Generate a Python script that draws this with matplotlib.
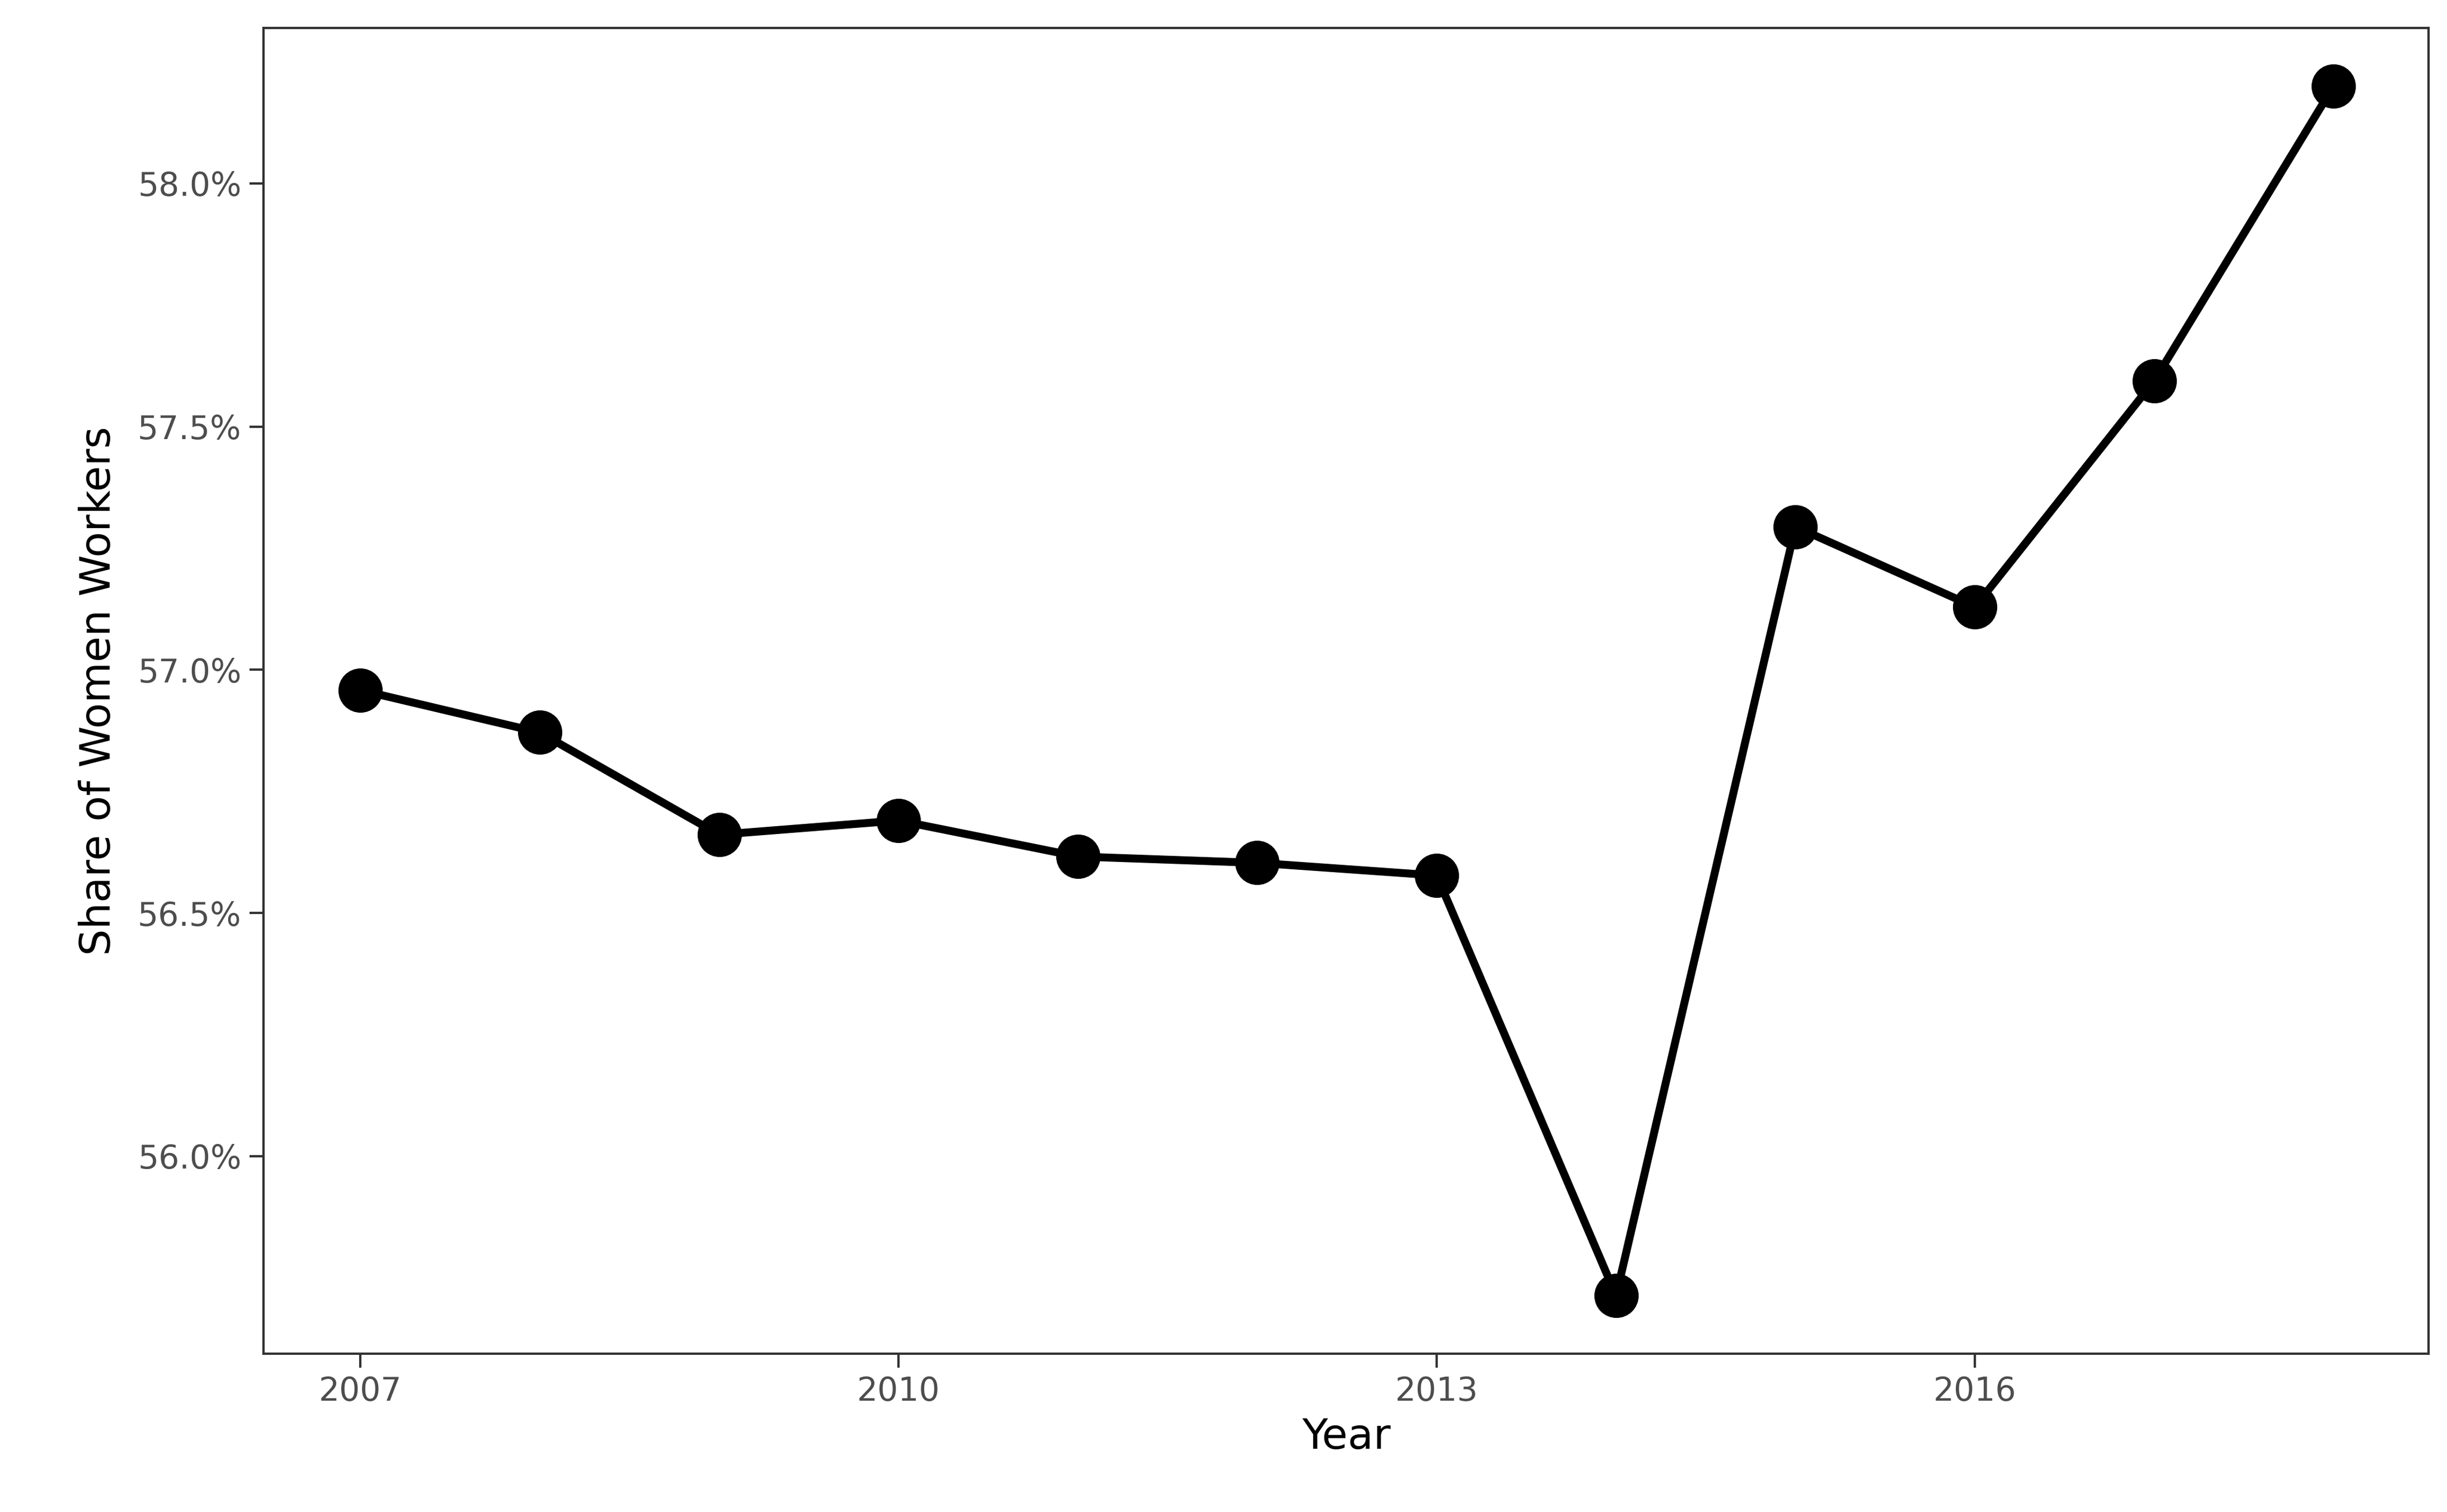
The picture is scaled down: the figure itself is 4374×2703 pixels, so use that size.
import matplotlib
matplotlib.use("Agg")
import matplotlib.pyplot as plt
from matplotlib.ticker import FuncFormatter

years = [2007, 2008, 2009, 2010, 2011, 2012, 2013, 2014, 2015, 2016, 2017, 2018]
share = [56.958, 56.871, 56.661, 56.690, 56.616, 56.603, 56.577, 55.713, 57.294, 57.129, 57.594, 58.200]
xticks = [2007, 2010, 2013, 2016]
yticks = [56.0, 56.5, 57.0, 57.5, 58.0]

fig = plt.figure(figsize=(14.583, 9.01), dpi=300)
ax = fig.add_axes([168/1560, 1-863/964, (1548-168)/1560, (863-18)/964])
ax.plot(years, share, color="black", lw=3.4, marker="o", markersize=18, zorder=3)
ax.set_xlim(2006.46, 2018.53)
ax.set_ylim(55.594, 58.319)
ax.set_xticks(xticks)
ax.set_yticks(yticks)
ax.yaxis.set_major_formatter(FuncFormatter(lambda v, p: f"{v:.1f}%"))
for s in ax.spines.values():
    s.set_color("#333333"); s.set_linewidth(1.0)
ax.tick_params(colors="#333333", labelcolor="#4d4d4d", labelsize=14, length=6, width=1)
ax.set_xlabel("Year", fontsize=18, labelpad=4)
ax.set_ylabel("Share of Women Workers", fontsize=18, labelpad=8)
fig.savefig("out.png", dpi=300)
